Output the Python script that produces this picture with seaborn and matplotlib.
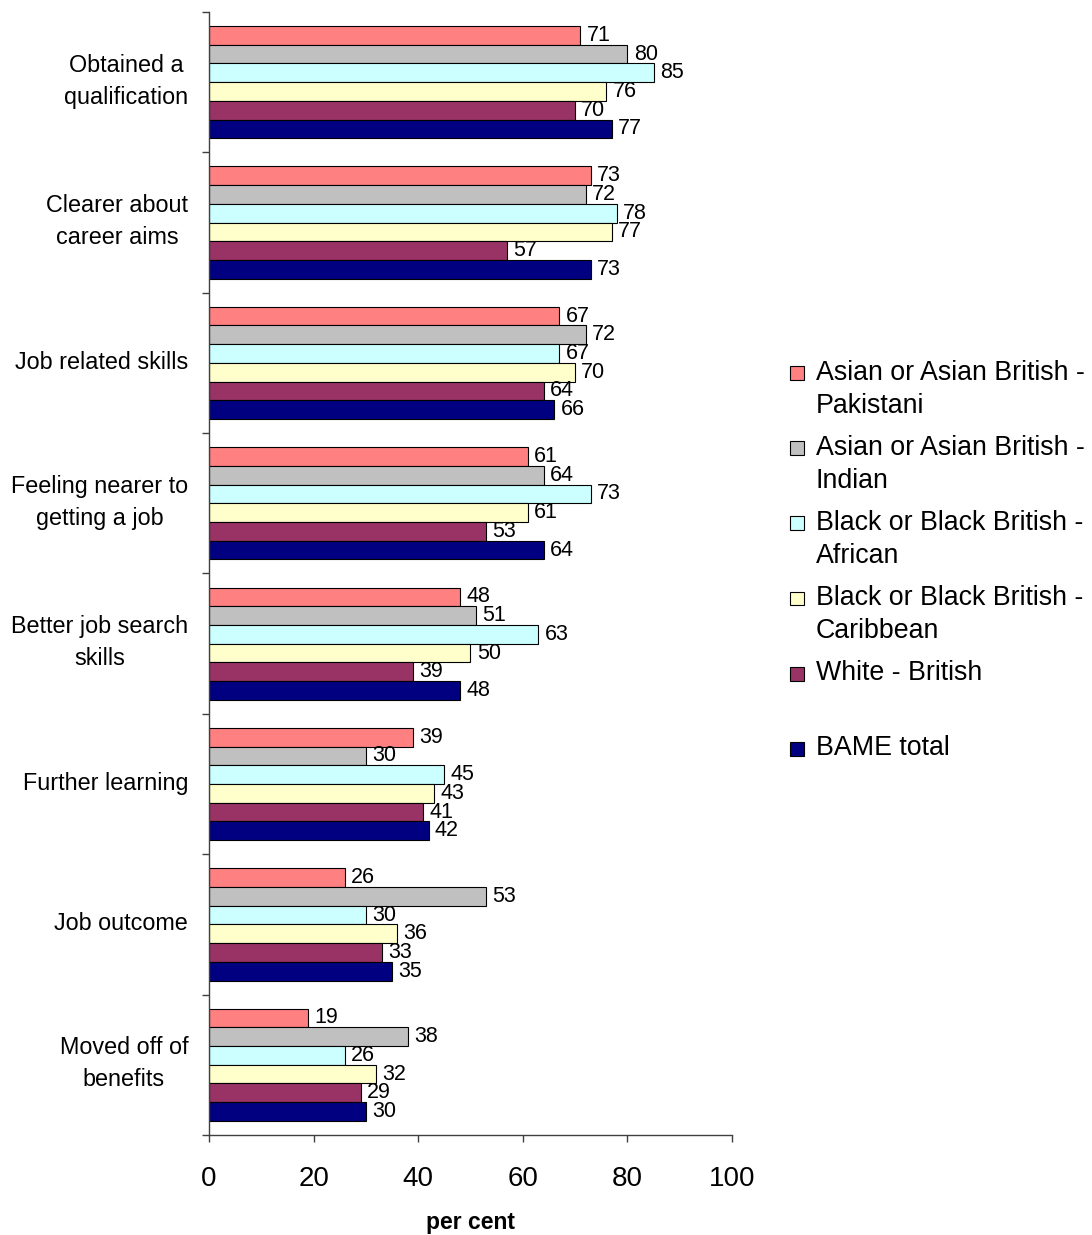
import numpy as np
import pandas as pd
import matplotlib
matplotlib.use("Agg")
import matplotlib.pyplot as plt
import matplotlib.transforms as mtransforms
import seaborn as sns
from matplotlib.legend_handler import HandlerPatch
from matplotlib.patches import Rectangle, Patch
from matplotlib.ticker import FixedLocator

categories = [
    "Obtained a\nqualification",
    "Clearer about\ncareer aims",
    "Job related skills",
    "Feeling nearer to\ngetting a job",
    "Better job search\nskills",
    "Further learning",
    "Job outcome",
    "Moved off of\nbenefits",
]

groups = [
    "Asian or Asian British -\nPakistani",
    "Asian or Asian British -\nIndian",
    "Black or Black British -\nAfrican",
    "Black or Black British -\nCaribbean",
    "White - British",
    "BAME total",
]

pakistani = [71, 73, 67, 61, 48, 39, 26, 19]
indian = [80, 72, 72, 64, 51, 30, 53, 38]
african = [85, 78, 67, 73, 63, 45, 30, 26]
caribbean = [76, 77, 70, 61, 50, 43, 36, 32]
white_british = [70, 57, 64, 53, 39, 41, 33, 29]
bame_total = [77, 73, 66, 64, 48, 42, 35, 30]

colors = ["#FF8080", "#C0C0C0", "#CCFFFF", "#FFFFCC", "#993366", "#000080"]

series = [pakistani, indian, african, caribbean, white_british, bame_total]
df = pd.DataFrame(
    [(c, g, v) for g, vals in zip(groups, series) for c, v in zip(categories, vals)],
    columns=["category", "group", "value"],
)

sns.set_style("ticks")
plt.rcParams["font.family"] = ["Liberation Sans", "DejaVu Sans"]
plt.rcParams["text.color"] = "black"
plt.rcParams["xtick.color"] = "#404040"
plt.rcParams["ytick.color"] = "#404040"
plt.rcParams["xtick.labelcolor"] = "black"
plt.rcParams["ytick.labelcolor"] = "black"
plt.rcParams["axes.labelcolor"] = "black"

fig = plt.figure(figsize=(10.92, 12.35), dpi=100)
ax = fig.add_axes([0.1914, 0.0810, 0.4789, 0.9093])

sns.barplot(
    data=df, y="category", x="value", hue="group", orient="h",
    order=categories, hue_order=groups, palette=colors, saturation=1,
    edgecolor="black", linewidth=0.8, width=0.8, ax=ax, legend=False,
)

for cont in ax.containers:
    ax.bar_label(cont, fmt="%d", padding=4.5, fontsize=15.5, color="black")

ax.set_xlim(0, 100)
ax.set_xticks(np.arange(0, 101, 20))
ax.set_ylim(len(categories) - 0.5, -0.5)

# category labels at centres, tick marks at the category boundaries
ax.set_yticks(np.arange(len(categories)))
ax.set_yticklabels(categories, fontsize=16.8, ha="right", multialignment="center",
                   linespacing=1.5)
ax.yaxis.set_minor_locator(FixedLocator(np.arange(-0.5, len(categories), 1.0)))
ax.tick_params(axis="y", which="major", length=0, pad=15)
ax.tick_params(axis="y", which="minor", length=5, width=1, direction="out")
ax.tick_params(axis="x", which="major", length=5, width=1,
               direction="out", labelsize=20, pad=17)

# raise the category labels slightly (more for two-line labels)
for lab in ax.get_yticklabels():
    n_lines = lab.get_text().count("\n") + 1
    lift_px = 3 + 5 * (n_lines - 1)
    lift = mtransforms.ScaledTranslation(0, lift_px / fig.dpi, fig.dpi_scale_trans)
    lab.set_transform(lab.get_transform() + lift)

ax.set_ylabel("")
ax.set_xlabel("per cent", fontsize=16.5, fontweight="bold", labelpad=14)

sns.despine(ax=ax)
for side in ("left", "bottom"):
    ax.spines[side].set_color("#404040")
    ax.spines[side].set_linewidth(1)


def first_line_square(legend, orig_handle, xdescent, ydescent, width, height, fontsize):
    side = 0.52 * fontsize
    shift = 0.62 * fontsize
    return Rectangle((-xdescent + (width - side) / 2,
                      -ydescent + (height - side) / 2 + shift), side, side)


handles = [Patch(facecolor=c, edgecolor="black", linewidth=0.8) for c in colors]
labels = groups[:4] + ["White - British\n ", "BAME total\n "]
leg = fig.legend(
    handles, labels, loc="upper left", bbox_to_anchor=(0.7234, 0.7086),
    frameon=False, fontsize=19.3, handlelength=0.55, handleheight=0.55,
    handletextpad=0.42, labelspacing=0.6, borderpad=0, borderaxespad=0,
    handler_map={Patch: HandlerPatch(patch_func=first_line_square)},
)
for t in leg.get_texts():
    t.set_linespacing(1.35)

fig.savefig("out.png", dpi=100, facecolor="white")
